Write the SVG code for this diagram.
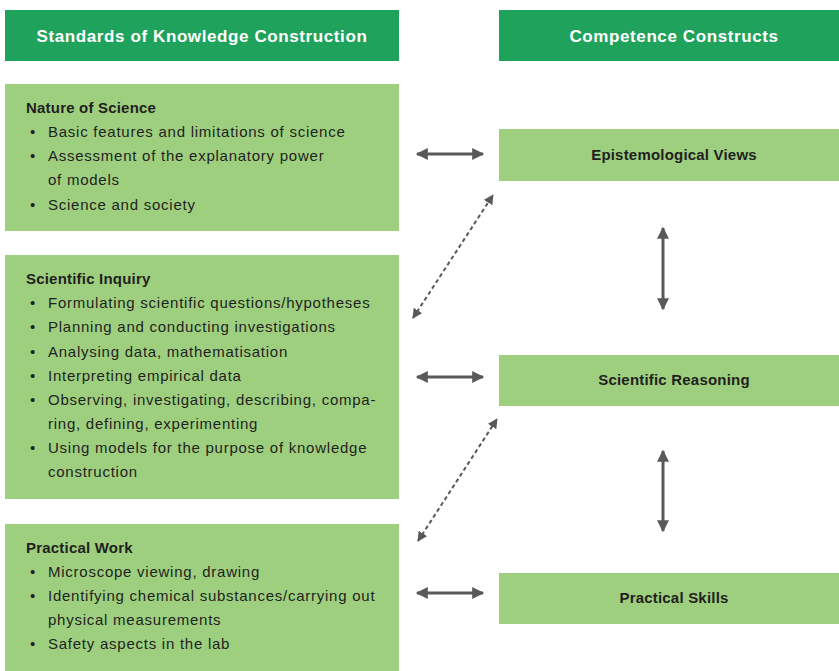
<svg xmlns="http://www.w3.org/2000/svg" width="839" height="671" viewBox="0 0 839 671">
<style>
.hdr{fill:#1fa35c}
.box{fill:#9dcf7f}
.ht{font-family:"Liberation Sans",Arial,sans-serif;font-size:17px;font-weight:bold;fill:#fff;letter-spacing:0.6px}
.t{font-family:"Liberation Sans",Arial,sans-serif;font-size:15px;fill:#231f20;letter-spacing:0.75px}
.b{font-weight:bold;letter-spacing:0.2px}
.c{text-anchor:middle}
.ln{stroke:#58595b;stroke-width:3;fill:none}
.dl{stroke:#58595b;stroke-width:2;fill:none;stroke-dasharray:4 3}
</style>
<defs>
<marker id="ah" viewBox="0 0 10 10" refX="9" refY="5" markerWidth="4.5" markerHeight="4" orient="auto-start-reverse" markerUnits="strokeWidth"><path d="M0,0 L10,5 L0,10 z" fill="#58595b"/></marker>
<marker id="ahd" viewBox="0 0 10 10" refX="9" refY="5" markerWidth="5" markerHeight="5" orient="auto-start-reverse" markerUnits="strokeWidth"><path d="M0,0 L10,5 L0,10 z" fill="#58595b"/></marker>
</defs>
<g id="hdr-left"><rect class="hdr" x="5" y="10" width="394" height="51"/><text class="ht c" x="202" y="42">Standards of Knowledge Construction</text></g>
<g id="hdr-right"><rect class="hdr" x="499" y="10" width="340" height="51"/><text class="ht c" x="674" y="42">Competence Constructs</text></g>
<g id="nature">
<rect class="box" x="5" y="84" width="394" height="147"/>
<text class="t b" x="26" y="113">Nature of Science</text>
<text class="t" x="30" y="137">•</text><text class="t" x="48" y="137">Basic features and limitations of science</text>
<text class="t" x="30" y="161">•</text><text class="t" x="48" y="161">Assessment of the explanatory power</text>
<text class="t" x="48" y="185">of models</text>
<text class="t" x="30" y="210">•</text><text class="t" x="48" y="210">Science and society</text>
</g>
<g id="inquiry">
<rect class="box" x="5" y="255" width="394" height="244"/>
<text class="t b" x="26" y="284">Scientific Inquiry</text>
<text class="t" x="30" y="308">•</text><text class="t" x="48" y="308">Formulating scientific questions/hypotheses</text>
<text class="t" x="30" y="332">•</text><text class="t" x="48" y="332">Planning and conducting investigations</text>
<text class="t" x="30" y="357">•</text><text class="t" x="48" y="357">Analysing data, mathematisation</text>
<text class="t" x="30" y="381">•</text><text class="t" x="48" y="381">Interpreting empirical data</text>
<text class="t" x="30" y="405">•</text><text class="t" x="48" y="405">Observing, investigating, describing, compa-</text>
<text class="t" x="48" y="429">ring, defining, experimenting</text>
<text class="t" x="30" y="453">•</text><text class="t" x="48" y="453">Using models for the purpose of knowledge</text>
<text class="t" x="48" y="477">construction</text>
</g>
<g id="practical">
<rect class="box" x="5" y="524" width="394" height="147"/>
<text class="t b" x="26" y="553">Practical Work</text>
<text class="t" x="30" y="577">•</text><text class="t" x="48" y="577">Microscope viewing, drawing</text>
<text class="t" x="30" y="601">•</text><text class="t" x="48" y="601">Identifying chemical substances/carrying out</text>
<text class="t" x="48" y="625">physical measurements</text>
<text class="t" x="30" y="649">•</text><text class="t" x="48" y="649">Safety aspects in the lab</text>
</g>
<g id="epistemological"><rect class="box" x="499" y="129" width="340" height="52"/><text class="t b c" x="674" y="160">Epistemological Views</text></g>
<g id="reasoning"><rect class="box" x="499" y="355" width="340" height="51"/><text class="t b c" x="674" y="385">Scientific Reasoning</text></g>
<g id="skills"><rect class="box" x="499" y="573" width="340" height="51"/><text class="t b c" x="674" y="603">Practical Skills</text></g>
<g id="connectors">
<line class="ln" x1="417" y1="154" x2="483" y2="154" marker-start="url(#ah)" marker-end="url(#ah)"/>
<line class="ln" x1="417" y1="377" x2="483" y2="377" marker-start="url(#ah)" marker-end="url(#ah)"/>
<line class="ln" x1="417" y1="593" x2="483" y2="593" marker-start="url(#ah)" marker-end="url(#ah)"/>
<line class="ln" x1="663" y1="228" x2="663" y2="309" marker-start="url(#ah)" marker-end="url(#ah)"/>
<line class="ln" x1="663" y1="451" x2="663" y2="531" marker-start="url(#ah)" marker-end="url(#ah)"/>
<line class="dl" x1="413" y1="318" x2="493" y2="195" marker-start="url(#ahd)" marker-end="url(#ahd)"/>
<line class="dl" x1="418" y1="541" x2="497" y2="419" marker-start="url(#ahd)" marker-end="url(#ahd)"/>
</g>
</svg>
